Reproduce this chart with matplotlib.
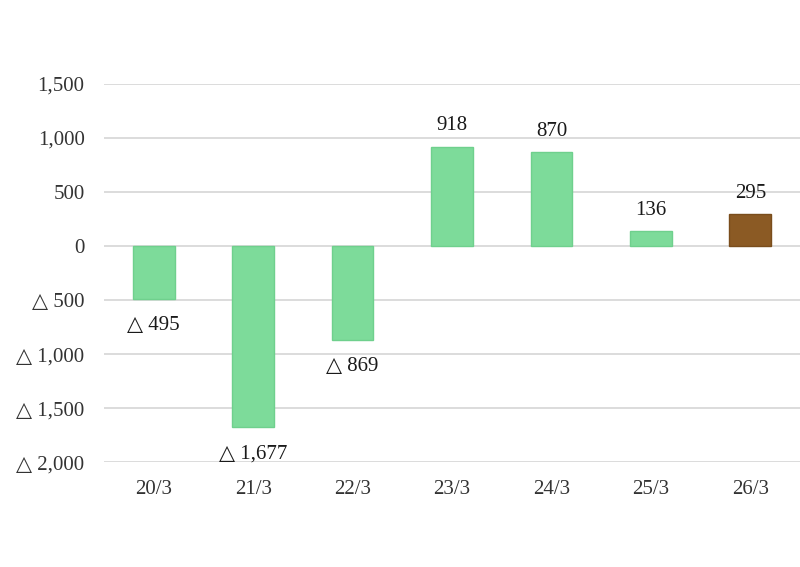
import matplotlib
matplotlib.use('Agg')
import matplotlib.pyplot as plt

# values
years = ['20/3', '21/3', '22/3', '23/3', '24/3', '25/3', '26/3']
values = [-495, -1677, -869, 918, 870, 136, 295]
bar_colors = ['#7ddb9a'] * 6 + ['#8b5a24']
edge_colors = ['#6fd08d'] * 6 + ['#7a4d1c']
y_ticks = [-2000, -1500, -1000, -500, 0, 500, 1000, 1500]

plt.rcParams['font.family'] = ['Liberation Serif', 'DejaVu Serif']


def fmt(v):
    # negative numbers are written with a triangle in front
    if v < 0:
        return '△ {:,}'.format(-v)
    return '{:,}'.format(v)


fig = plt.figure(figsize=(8, 5.67), dpi=100)
ax = fig.add_axes([0.13, 0.185, 0.87, 0.667])

x = range(len(years))
ax.bar(x, values, width=0.42, color=bar_colors, edgecolor=edge_colors,
       linewidth=1, zorder=3)

for i, v in enumerate(values):
    if v < 0:
        ax.annotate(fmt(v), (i, v), xytext=(0, -19), textcoords='offset points',
                    ha='center', va='center', fontsize=15, color='#1a1a1a')
    else:
        ax.annotate(fmt(v), (i, v), xytext=(0, 15), textcoords='offset points',
                    ha='center', va='center', fontsize=15, color='#1a1a1a')

ax.set_xlim(-0.5, len(years) - 0.5)
ax.set_ylim(-2000, 1500)
ax.set_yticks(y_ticks)
ax.set_yticklabels([fmt(t) for t in y_ticks])
ax.set_xticks(list(x))
ax.set_xticklabels(years)
ax.yaxis.grid(True, color='#d9d9d9', linewidth=1.3, zorder=0)
ax.tick_params(axis='both', length=0, labelsize=15, labelcolor='#333333')
ax.tick_params(axis='x', pad=13)
ax.tick_params(axis='y', pad=14)
for s in ax.spines.values():
    s.set_visible(False)

fig.savefig('out.png', dpi=100)
